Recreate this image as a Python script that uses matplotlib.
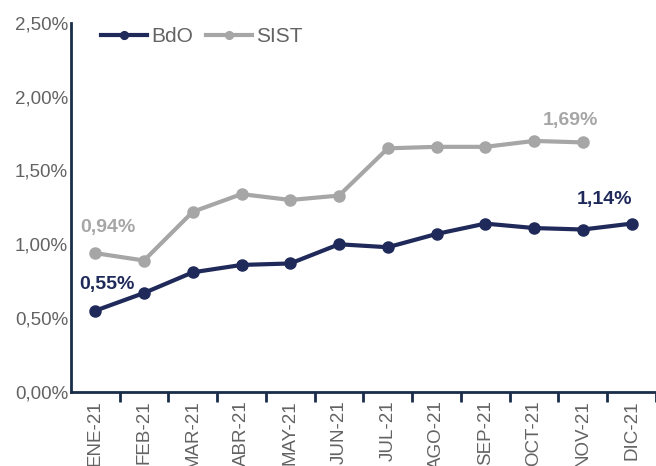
import matplotlib.pyplot as plt
from matplotlib.ticker import FuncFormatter

MONTHS = ['ENE-21', 'FEB-21', 'MAR-21', 'ABR-21', 'MAY-21', 'JUN-21',
          'JUL-21', 'AGO-21', 'SEP-21', 'OCT-21', 'NOV-21', 'DIC-21']
BDO = [0.55, 0.67, 0.81, 0.86, 0.87, 1.00, 0.98, 1.07, 1.14, 1.11, 1.10, 1.14]
SIST = [0.94, 0.89, 1.22, 1.34, 1.30, 1.33, 1.65, 1.66, 1.66, 1.70, 1.69]

NAVY = '#1f2a5a'
GRAY = '#a6a6a6'
SPINE = '#1a2e4a'
TXT = '#636363'

plt.rcParams['font.family'] = ['Liberation Sans', 'DejaVu Sans']

fig = plt.figure(figsize=(6.56, 4.66), dpi=100)
ax = fig.add_axes([0.108, 0.159, 0.892, 0.792])

x_b = list(range(len(BDO)))
x_s = list(range(len(SIST)))
ax.plot(x_b, BDO, color=NAVY, lw=3, marker='o', ms=8, label='BdO', zorder=3)
ax.plot(x_s, SIST, color=GRAY, lw=3, marker='o', ms=8, label='SIST', zorder=2)

def fmt(v):
    return f'{v:.2f}%'.replace('.', ',')

bold = dict(fontsize=14, fontweight='bold', ha='center', va='center',
            textcoords='offset pixels')
ax.annotate(fmt(SIST[0]), (0, SIST[0]), xytext=(13, 26), color=GRAY, **bold)
ax.annotate(fmt(BDO[0]), (0, BDO[0]), xytext=(12, 26), color=NAVY, **bold)
ax.annotate(fmt(SIST[-1]), (len(SIST) - 1, SIST[-1]), xytext=(-12, 22), color=GRAY, **bold)
ax.annotate(fmt(BDO[-1]), (len(BDO) - 1, BDO[-1]), xytext=(-27, 24), color=NAVY, **bold)

ax.set_xlim(-0.5, len(MONTHS) - 0.5)
ax.set_ylim(0, 2.5)
ax.set_yticks([0, 0.5, 1.0, 1.5, 2.0, 2.5])
ax.yaxis.set_major_formatter(FuncFormatter(lambda v, p: fmt(v)))
ax.set_xticks(x_b)
ax.set_xticklabels(MONTHS, rotation=90)
ax.set_xticks([i + 0.5 for i in range(len(MONTHS))], minor=True)
ax.tick_params(axis='x', which='major', length=0, pad=6, labelsize=13.5, labelcolor=TXT)
ax.tick_params(axis='x', which='minor', length=7, width=2, color=SPINE, direction='out')
ax.tick_params(axis='y', length=0, pad=2, labelsize=13.5, labelcolor=TXT)

for s in ['top', 'right']:
    ax.spines[s].set_visible(False)
for s in ['left', 'bottom']:
    ax.spines[s].set_color(SPINE)
    ax.spines[s].set_linewidth(2)

leg = ax.legend(loc='upper left', ncol=2, frameon=False, fontsize=15,
                bbox_to_anchor=(0.02, 1.04), handlelength=2.2, handletextpad=0.2,
                columnspacing=0.6, markerscale=0.7)
for t in leg.get_texts():
    t.set_color(TXT)

fig.savefig('out.png', dpi=100)
